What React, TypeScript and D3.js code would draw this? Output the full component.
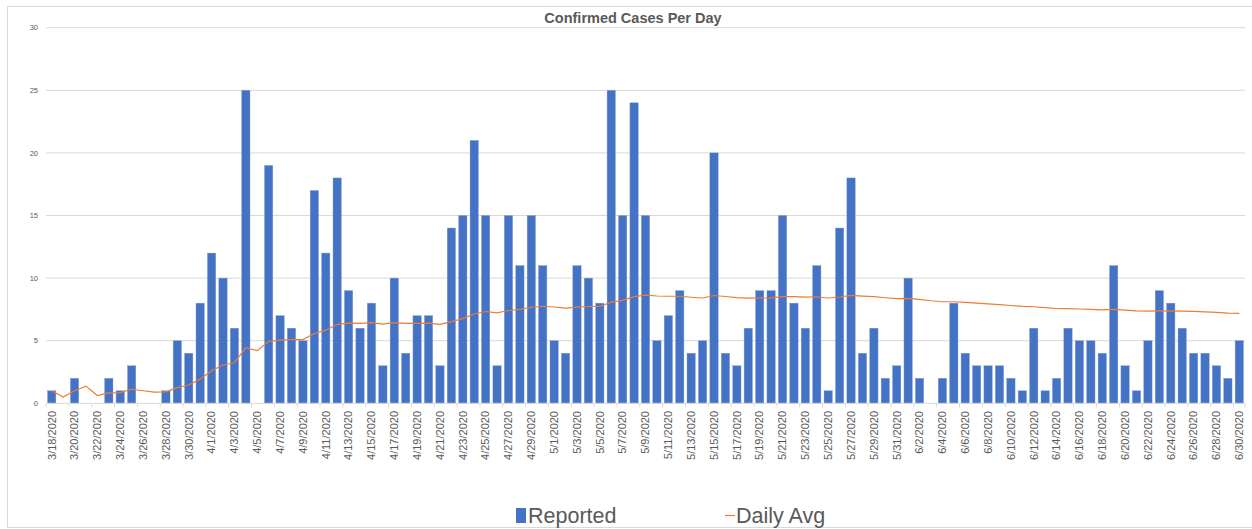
import React, { useEffect } from 'react';
import * as d3 from 'd3';

// reported cases per day, 3/18/2020 .. 6/30/2020
const reported = [
  1, 0, 2, 0, 0, 2, 1, 3, 0, 0, 1, 5, 4, 8, 12, 10, 6, 25, 0, 19,
  7, 6, 5, 17, 12, 18, 9, 6, 8, 3, 10, 4, 7, 7, 3, 14, 15, 21, 15, 3,
  15, 11, 15, 11, 5, 4, 11, 10, 8, 25, 15, 24, 15, 5, 7, 9, 4, 5, 20, 4,
  3, 6, 9, 9, 15, 8, 6, 11, 1, 14, 18, 4, 6, 2, 3, 10, 2, 0, 2, 8,
  4, 3, 3, 3, 2, 1, 6, 1, 2, 6, 5, 5, 4, 11, 3, 1, 5, 9, 8, 6,
  4, 4, 3, 2, 5,
];

// daily average line
const dailyAvg = [
  1.0, 0.5, 1.0, 1.37, 0.62, 0.83, 0.86, 1.12, 1.0, 0.9, 0.91, 1.25, 1.46, 1.93, 2.6, 3.06, 3.24, 4.44, 4.21, 4.95,
  5.05, 5.09, 5.09, 5.58, 5.84, 6.31, 6.41, 6.39, 6.45, 6.33, 6.45, 6.38, 6.39, 6.41, 6.31, 6.53, 6.76, 7.13, 7.33, 7.22,
  7.41, 7.5, 7.67, 7.75, 7.69, 7.61, 7.68, 7.73, 7.73, 8.08, 8.22, 8.52, 8.64, 8.57, 8.55, 8.55, 8.47, 8.41, 8.61, 8.53,
  8.44, 8.4, 8.41, 8.42, 8.52, 8.52, 8.48, 8.51, 8.41, 8.49, 8.62, 8.56, 8.52, 8.43, 8.36, 8.38, 8.3, 8.19, 8.11, 8.11,
  8.06, 8.0, 7.94, 7.88, 7.81, 7.74, 7.71, 7.64, 7.57, 7.56, 7.53, 7.5, 7.46, 7.5, 7.45, 7.39, 7.36, 7.38, 7.39, 7.37,
  7.34, 7.3, 7.26, 7.21, 7.19,
];

const yTicks = [0, 5, 10, 15, 20, 25, 30];

const fmt = d3.timeFormat('%-m/%-d/%Y');
const dates = d3.timeDay.range(new Date(2020, 2, 18), new Date(2020, 6, 1)).map(fmt);

const W = 1252;
const H = 529;
const left = 46;
const right = 1245;
const top = 27.7;
const bottom = 403.3;

const textColor = '#595959';
const font = '"Liberation Sans", Arial, sans-serif';

export default function App() {
  useEffect(() => {
    document.body.style.margin = '0';
  }, []);

  const x = d3.scaleBand<string>().domain(dates).range([left, right]).paddingInner(0.27).paddingOuter(0.135);
  const y = d3.scaleLinear().domain([0, 30]).range([bottom, top]);
  const step = x.step();

  const line = d3.line<number>()
    .x((_, i) => (x(dates[i]) as number) + x.bandwidth() / 2)
    .y(d => y(d));

  return (
    <svg width={W} height={H} style={{ display: 'block', background: '#fff' }}>
      <rect x={7.5} y={6.5} width={W + 10} height={H - 8} fill="#fff" stroke="#d9d9d9" strokeWidth={1} />
      <text x={633} y={23} textAnchor="middle" fontFamily={font} fontWeight="bold" fontSize={14.5} fill={textColor}>
        Confirmed Cases Per Day
      </text>

      {yTicks.map(t => (
        <g key={t}>
          {t > 0 && <line x1={left} x2={right} y1={y(t)} y2={y(t)} stroke="#d9d9d9" strokeWidth={1} />}
          <text x={38} y={y(t)} dy="0.35em" textAnchor="end" fontFamily={font} fontSize={7.5} fill={textColor}>
            {t}
          </text>
        </g>
      ))}

      {reported.map((v, i) => (
        <rect
          key={i}
          x={x(dates[i])}
          y={y(v)}
          width={x.bandwidth()}
          height={bottom - y(v)}
          fill="#4472C4"
          stroke="#7f9fd8"
          strokeWidth={0.4}
        />
      ))}

      <line x1={left} x2={right} y1={bottom} y2={bottom} stroke="#d9d9d9" strokeWidth={1} />
      {dates.map((d, i) => (i % 2 === 0 ? (
        <line key={'t' + i} x1={left + i * step} x2={left + i * step} y1={bottom} y2={bottom + 4} stroke="#d9d9d9" />
      ) : null))}
      <line x1={right} x2={right} y1={bottom} y2={bottom + 4} stroke="#d9d9d9" />

      <path d={line(dailyAvg) || ''} fill="none" stroke="#ED7D31" strokeWidth={1.2} />

      {dates.map((d, i) => (i % 2 === 0 ? (
        <text
          key={'l' + i}
          transform={`translate(${(x(d) as number) + x.bandwidth() / 2 + 3.8},411) rotate(-90)`}
          textAnchor="end"
          fontFamily={font}
          fontSize={11}
          fill={textColor}
        >
          {d}
        </text>
      ) : null))}

      <rect x={516} y={508} width={10} height={15} fill="#4472C4" />
      <text x={528} y={523} fontFamily={font} fontSize={21.5} fill={textColor}>Reported</text>
      <line x1={725} x2={735} y1={515.5} y2={515.5} stroke="#ED7D31" strokeWidth={1.2} />
      <text x={736} y={523} fontFamily={font} fontSize={21.5} fill={textColor}>Daily Avg</text>
    </svg>
  );
}
